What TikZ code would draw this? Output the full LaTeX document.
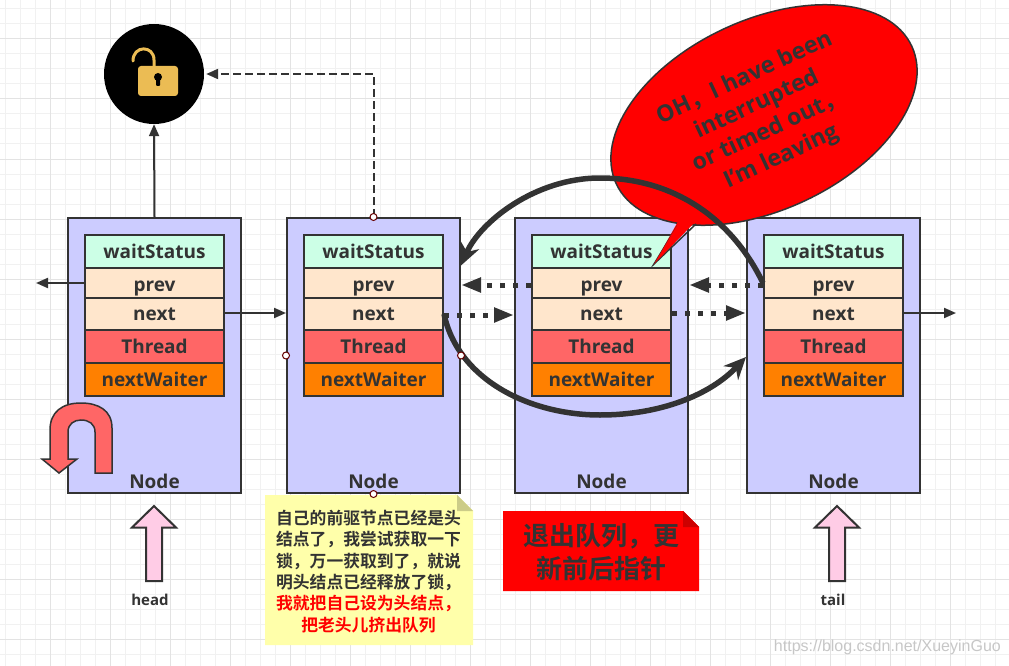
\documentclass[tikz,border=0pt]{standalone}
\usepackage{fontspec}
\setmainfont{Open Sans}
\newfontfamily\cjkfont{Noto Sans CJK SC}[BoldFont={* Bold}]
\newfontfamily\wmfont{Liberation Sans}
\usetikzlibrary{arrows.meta,shapes.geometric}
\definecolor{ink}{HTML}{333333}
\definecolor{lilac}{HTML}{CCCCFF}
\definecolor{mint}{HTML}{CCFFE6}
\definecolor{peach}{HTML}{FFE6CC}
\definecolor{salmon}{HTML}{FF6666}
\definecolor{amber}{HTML}{FF8000}
\definecolor{pinkish}{HTML}{FFCCE6}
\definecolor{lockgold}{HTML}{EBBC54}
\definecolor{noteyellow}{HTML}{FFFFAA}
\definecolor{foldyellow}{HTML}{CCCC88}
\definecolor{folddark}{HTML}{CC0000}
\definecolor{gridminor}{HTML}{F1F1F1}
\definecolor{gridmajor}{HTML}{E3E3E3}
\tikzset{
  x=1pt,y=-1pt,
  nodebox/.style={draw=ink,line width=2pt,fill=lilac,minimum width=173pt,minimum height=275pt,inner sep=0pt},
  cell/.style={draw=ink,line width=2pt,minimum width=139pt,inner sep=0pt,text=ink,text height=13pt,text depth=0pt,font=\fontsize{19}{21}\selectfont\bfseries},
  waitcell/.style={cell,fill=mint,minimum height=33pt},
  prevcell/.style={cell,fill=peach,minimum height=30pt,text height=16pt},
  nextcell/.style={cell,fill=peach,minimum height=32pt},
  threadcell/.style={cell,fill=salmon,minimum height=33pt},
  nwcell/.style={cell,fill=amber,minimum height=33pt},
  nodename/.style={text=ink,inner sep=0pt,font=\fontsize{19}{21}\selectfont\bfseries},
  ptrname/.style={text=ink,inner sep=0pt,font=\fontsize{15}{17}\selectfont\bfseries},
  solidarrow/.style={draw=ink,line width=2pt,-{Triangle[length=12pt,width=10pt]}},
  dashedarrow/.style={solidarrow,dash pattern=on 8pt off 4pt},
  dotarrow/.style={draw=ink,line width=5pt,dash pattern=on 5pt off 8pt,-{Triangle[length=20pt,width=14pt]}},
  bigarc/.style={draw=ink,line width=5.5pt,-{Stealth[length=22pt,width=20pt]}},
  handle/.style={circle,draw=black!60!red,fill=white,line width=1pt,minimum size=7pt,inner sep=0pt},
  pinkarrow/.style={draw=ink,line width=2pt,fill=pinkish,line join=miter},
}
\begin{document}
\begin{tikzpicture}
\useasboundingbox (0,0) rectangle (1009,666);
\fill[white] (0,0) rectangle (1009,666);
% grid
\foreach \i in {0,...,67} {
  \pgfmathsetmacro{\gx}{5+15*\i}
  \draw[gridminor,line width=1pt] (\gx,0) -- (\gx,666);
}
\foreach \i in {0,...,44} {
  \pgfmathsetmacro{\gy}{9+15*\i}
  \draw[gridminor,line width=1pt] (0,\gy) -- (1009,\gy);
}
\foreach \i in {0,...,16} {
  \pgfmathsetmacro{\gx}{50+60*\i}
  \draw[gridmajor,line width=1pt] (\gx,0) -- (\gx,666);
}
\foreach \i in {0,...,10} {
  \pgfmathsetmacro{\gy}{39+60*\i}
  \draw[gridmajor,line width=1pt] (0,\gy) -- (1009,\gy);
}
% queue nodes
\foreach \k/\cx in {1/154.5,2/373.5,3/601.5,4/833.5} {
  \node[nodebox] (n\k) at (\cx,355.5) {};
  \node[waitcell] (n\k w) at (\cx,251.5) {waitStatus};
  \node[prevcell] (n\k p) at (\cx,283) {prev};
  \node[nextcell] (n\k n) at (\cx,314) {next};
  \node[threadcell] (n\k t) at (\cx,346.5) {Thread};
  \node[nwcell] (n\k x) at (\cx,379.5) {nextWaiter};
  \node[nodename] (n\k l) at (\cx,481) {Node};
}
% lock
\node[circle,fill=black,minimum size=100pt,inner sep=0pt] (lock) at (154,74) {};
\draw[lockgold,line width=3pt,line cap=round] (133,61) .. controls (133,45) and (154,45) .. (154,60) -- (154,67);
\fill[lockgold,rounded corners=3pt] (138,66) rectangle (178,96);
\fill[black] (158,77) circle (4pt);
\fill[black,rounded corners=1pt] (156,77) rectangle (160,86);
% U-turn arrow
\draw[draw=ink,line width=1.5pt,fill=salmon,line join=miter]
  (112,473) -- (112,428) .. controls (112,410) and (98,403) .. (81,403)
  .. controls (62,403) and (50,412) .. (50,430) -- (50,459) -- (42,459) -- (59,473) -- (77,459) -- (68,459) -- (68,432)
  .. controls (68,424) and (74,420) .. (81,420) .. controls (89,420) and (95,424) .. (95,432) -- (95,473) -- cycle;
% pointers
\draw[pinkarrow] (154,506) -- (176,527.5) -- (162,527.5) -- (162,581) -- (146,581) -- (146,527.5) -- (132,527.5) -- cycle;
\draw[pinkarrow] (837,506) -- (859,527.5) -- (845,527.5) -- (845,581) -- (829,581) -- (829,527.5) -- (815,527.5) -- cycle;
\node[ptrname] (headname) at (150,600) {head};
\node[ptrname] (tailname) at (833,600) {tail};
% notes
\fill[noteyellow] (265,495) -- (457,495) -- (473,511) -- (473,645) -- (265,645) -- cycle;
\fill[foldyellow] (457,495) -- (473,511) -- (457,511) -- cycle;
\node[inner sep=0pt,align=center,text=ink,font=\cjkfont\fontsize{16.8}{21.4}\selectfont\bfseries] (yellownote) at (368.5,571.5)
  {自己的前驱节点已经是头\\结点了，我尝试获取一下\\锁，万一获取到了，就说\\明头结点已经释放了锁，\\\textcolor{red}{我就把自己设为头结点，}\\\textcolor{red}{把老头儿挤出队列}};
\fill[red] (503,511) -- (683,511) -- (699,527) -- (699,591) -- (503,591) -- cycle;
\fill[folddark] (683,511) -- (699,527) -- (683,527) -- cycle;
\node[inner sep=0pt,align=center,text=ink,font=\cjkfont\fontsize{26}{33}\selectfont\bfseries] (rednote) at (601,552.5)
  {退出队列，更\\新前后指针};
% callout
\node[ellipse,draw=ink,line width=1.5pt,fill=red,minimum width=326pt,minimum height=190pt,inner sep=0pt,rotate=25] (bubble) at (764,115) {};
\coordinate (tailL) at (678,225);
\coordinate (tailR) at (696,224);
\coordinate (tailT) at (654,264);
\fill[red] (680,218) -- (tailT) -- (697,218) -- cycle;
\draw[ink,line width=1.5pt] (tailL) -- (tailT) -- (tailR);
\fill[red] (678.5,223) -- (tailT) -- (695,222) -- cycle;
\node[inner sep=0pt,rotate=25,align=center,text=ink,font=\fontsize{23}{29}\selectfont\bfseries] (bubbletext) at (763,118)
  {OH{\cjkfont\bfseries，}I have been\\interrupted\\or timed out{\cjkfont\bfseries，}\\I'm leaving};
% connectors
\draw[solidarrow] (n1.north) -- (lock.south);
\draw[dashedarrow] (n2.north) -- (n2.north |- lock.east) -- ([xshift=2pt]lock.east);
\coordinate (leftend) at (36,283);
\coordinate (rightend) at (956,313);
\draw[solidarrow] (n1p.west) -- (leftend);
\draw[solidarrow] (n1n.east |- 0,313) -- (n2.west |- 0,313);
\draw[solidarrow] (n4n.east |- 0,313) -- (rightend);
\draw[dotarrow] (n3p.west |- 0,285) -- (n2.east |- 0,285);
\draw[dotarrow] (n4p.west |- 0,285) -- (n3.east |- 0,285);
\draw[dotarrow] (n2n.east |- 0,315) -- (n3.west |- 0,315);
\draw[dotarrow] (n3n.east |- 0,313) -- (n4.west |- 0,313);
\coordinate (arctop) at (600,178);
\coordinate (arcbottom) at (600,415);
\draw[bigarc] (n4p.west) .. controls (730,215) and (670,178) .. (arctop) .. controls (535,178) and (480,222) .. ([yshift=90pt]n2.east);
\draw[bigarc] (n2n.east) .. controls (458,380) and (530,415) .. (arcbottom) .. controls (660,415) and (710,395) .. ([yshift=-1.5pt]n4.west);
% handles
\node[handle] (h1) at (n2.north) {};
\node[handle] (h2) at (n2.west) {};
\node[handle] (h3) at (n2.east) {};
\node[handle] (h4) at (n2.south) {};
% watermark
\node[anchor=east,inner sep=0pt,text=black!22,font=\wmfont\fontsize{16}{17}\selectfont] (wm) at (1001,647) {https://blog.csdn.net/XueyinGuo};
\end{tikzpicture}
\end{document}
